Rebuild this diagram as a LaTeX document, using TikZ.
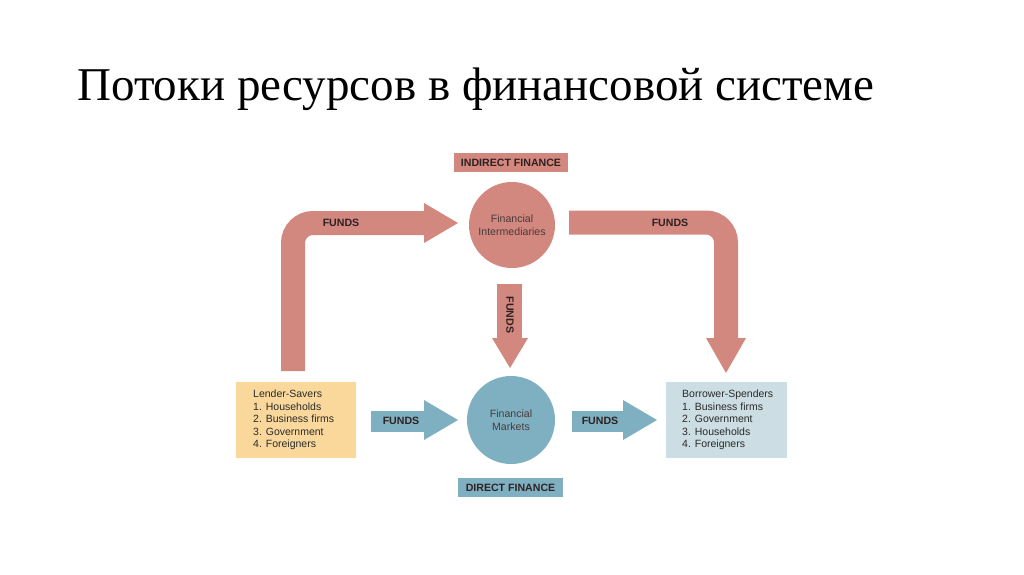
\documentclass[tikz,border=0pt]{standalone}
\usepackage{fontspec}
\setmainfont{Liberation Sans}
\newfontfamily\titlefont{Liberation Serif}
\begin{document}
\begin{tikzpicture}[x=1pt,y=-1pt,
  lbl/.style={font=\fontsize{10.6}{12}\selectfont\bfseries,text=labeltext,inner sep=0pt},
  circtxt/.style={font=\fontsize{10.6}{12.5}\selectfont,text=circtext,align=center},
  listbox/.style={font=\fontsize{10.5}{12.5}\selectfont,text=listtext,align=left,anchor=north west,inner sep=0pt},
]
\definecolor{redfill}{HTML}{D2877F}
\definecolor{bluefill}{HTML}{7FB0C1}
\definecolor{yellowfill}{HTML}{FAD89C}
\definecolor{lightbluefill}{HTML}{CCDDE3}
\definecolor{labeltext}{HTML}{2E2222}
\definecolor{circtext}{HTML}{4A3A3A}
\definecolor{listtext}{HTML}{2A2A2A}
\useasboundingbox (0,0) rectangle (1024,574);
\fill[white] (0,0) rectangle (1024,574);

% title
\node[anchor=base west,inner sep=0pt,font=\titlefont\fontsize{47}{52}\selectfont] (title) at (77,100) {Потоки ресурсов в финансовой системе};

% boxes
\fill[yellowfill] (236,382) rectangle (356,458);
\node[listbox] (lender) at (253,390) {Lender-Savers\\1. Households\\2. Business firms\\3. Government\\4. Foreigners};
\fill[lightbluefill] (666,382) rectangle (787,458);
\node[listbox] (borrower) at (682,390) {Borrower-Spenders\\1. Business firms\\2. Government\\3. Households\\4. Foreigners};

% circles
\node[circle,fill=redfill,minimum size=86pt,inner sep=0pt] (fi) at (512,225) {};
\node[circtxt] at (fi.center) {Financial\\Intermediaries};
\node[circle,fill=bluefill,minimum size=88pt,inner sep=0pt] (fm) at (511,420) {};
\node[circtxt] at (fm.center) {Financial\\Markets};

% labels
\fill[redfill] (454,153) rectangle (568,172);
\node[lbl] (indirect) at (511,162.5) {INDIRECT FINANCE};
\fill[bluefill] (458,478) rectangle (563,497);
\node[lbl] (direct) at (510.5,487.5) {DIRECT FINANCE};

% left bent arrow
\coordinate (la0) at (293,371);
\coordinate (la1) at (293,223);
\coordinate (la2) at (425,223);
\draw[redfill,line width=24pt,rounded corners=20pt] (la0) -- (la1) -- (la2);
\fill[redfill] (424,203) -- (458,223) -- (424,243) -- cycle;
\node[lbl] at (341,223) {FUNDS};

% right bent arrow
\coordinate (ra0) at (569,222.5);
\coordinate (ra1) at (726,222.5);
\coordinate (ra2) at (726,339);
\draw[redfill,line width=24pt,rounded corners=20pt] (ra0) -- (ra1) -- (ra2);
\fill[redfill] (706,338) -- (746,338) -- (726,373) -- cycle;
\node[lbl] at (670,223) {FUNDS};

% middle arrow
\fill[redfill] (497,284) rectangle (522,339);
\fill[redfill] (492,338) -- (528,338) -- (510,368) -- cycle;
\node[lbl,rotate=-90] at (510,315) {FUNDS};

% blue arrows
\fill[bluefill] (371,411) rectangle (425,432);
\fill[bluefill] (424,400) -- (458,420) -- (424,440) -- cycle;
\node[lbl] at (401,421) {FUNDS};
\fill[bluefill] (572,411) rectangle (624,432);
\fill[bluefill] (623,400) -- (657,420) -- (623,440) -- cycle;
\node[lbl] at (600,421) {FUNDS};
\end{tikzpicture}
\end{document}
